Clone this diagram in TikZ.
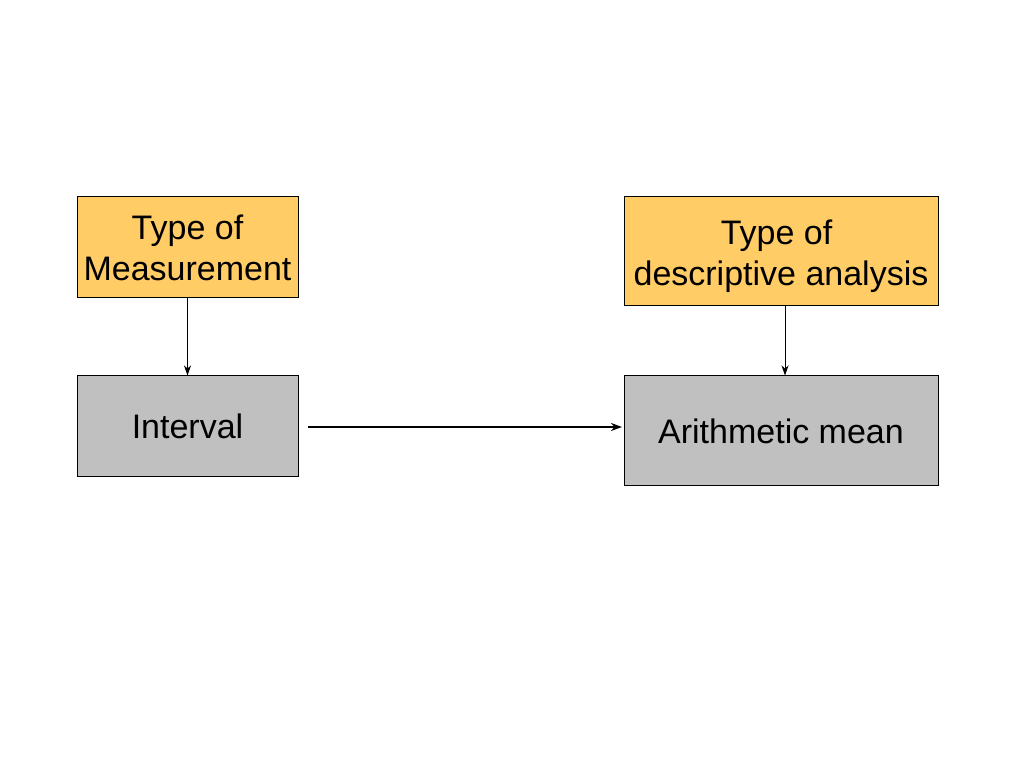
\documentclass[tikz,border=0pt]{standalone}
\usepackage{fontspec}
\setmainfont{Liberation Sans}
\usetikzlibrary{arrows.meta}
\definecolor{boxorange}{HTML}{FFCC66}
\definecolor{boxgray}{HTML}{C0C0C0}
\begin{document}
\begin{tikzpicture}[x=1pt,y=1pt,
  box/.style={draw=black,line width=1pt,inner sep=0pt,align=center,
    font=\fontsize{34}{41}\selectfont},
  headbox/.style={box,fill=boxorange},
  valbox/.style={box,fill=boxgray},
  conn/.style={line width=1pt,-{Stealth[length=10pt,width=7pt,inset=3pt]}},
  thickconn/.style={line width=2pt,-{Stealth[length=11pt,width=8pt,inset=3.5pt]}}]
\useasboundingbox[fill=white] (0,0) rectangle (1024,768);
\node[headbox,minimum width=221pt,minimum height=101pt] (tm) at (187.5,520.5) {Type of\\Measurement};
\node[valbox,minimum width=221pt,minimum height=101pt] (int) at (187.5,341.5) {Interval};
\node[headbox,minimum width=314pt,minimum height=109pt] (tda) at (781,516.5) {\rule{0pt}{34pt}Type of\hspace*{9pt}\\descriptive analysis};
\node[valbox,minimum width=314pt,minimum height=110pt] (am) at (781,337) {Arithmetic mean};
\coordinate (hs) at (308,341);
\coordinate (he) at (622,341);
\draw[conn] (tm.south) -- (int.north);
\draw[conn] (tda.south -| 785,0) -- (am.north -| 785,0);
\draw[thickconn] (hs) -- (he);
\end{tikzpicture}
\end{document}
